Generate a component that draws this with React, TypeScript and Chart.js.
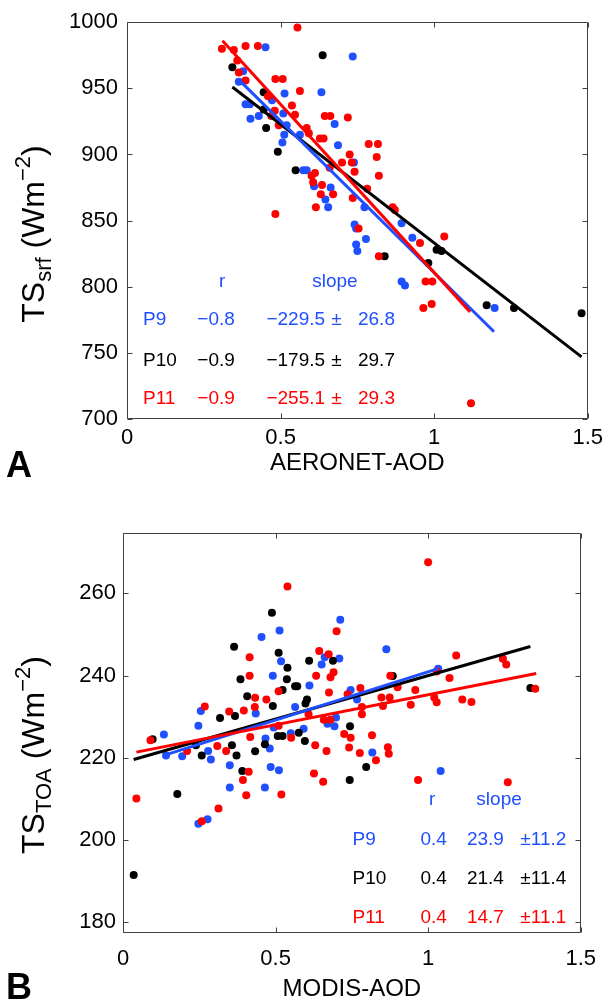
import React, { useEffect, useRef } from 'react';
import { Chart, registerables } from 'chart.js';

Chart.register(...registerables);

const FONT = "'Liberation Sans', Arial, Helvetica, sans-serif";
const BLUE = '#1f4fff';
const BLACK = '#000000';
const RED = '#ff0000';
const FRAME = '#404040';

// ---------------- Panel A : TS_srf vs AERONET-AOD ----------------
const A_X_TICKS = [0, 0.5, 1, 1.5];
const A_Y_TICKS = [700, 750, 800, 850, 900, 950, 1000];

const A_P9_X = [0.451, 0.735, 0.378, 0.364, 0.513, 0.633, 0.472, 0.386, 0.4, 0.429, 0.402, 0.509, 0.676, 0.52, 0.512, 0.563, 0.506, 0.687, 0.739, 0.574, 0.585, 0.609, 0.663, 0.646, 0.655, 0.773, 0.741, 0.746, 0.778, 0.746, 0.75, 0.894, 0.929, 0.894, 0.905, 1.197];
const A_P9_Y = [981, 974, 963, 955, 946, 947, 941, 938, 938, 929, 927, 931, 923, 922, 915, 915, 909, 907, 894, 888, 888, 876, 875, 866, 860, 860, 847, 844, 836, 832, 827, 848, 837, 804, 801, 784];

const A_P10_X = [0.637, 0.343, 0.445, 0.445, 0.453, 0.491, 0.549, 0.839, 0.981, 1.008, 1.024, 1.171, 1.26, 1.48];
const A_P10_Y = [975, 966, 947, 934, 920, 902, 888, 823, 818, 828, 827, 786, 784, 780];

const A_P11_X = [0.555, 0.309, 0.348, 0.386, 0.426, 0.359, 0.364, 0.386, 0.483, 0.507, 0.563, 0.459, 0.537, 0.481, 0.47, 0.547, 0.644, 0.662, 0.719, 0.494, 0.585, 0.592, 0.628, 0.64, 0.787, 0.817, 0.725, 0.813, 0.7, 0.732, 0.66, 0.741, 0.612, 0.82, 0.601, 0.606, 0.635, 0.782, 0.631, 0.671, 0.735, 0.615, 0.483, 0.865, 0.872, 0.754, 1.033, 0.954, 0.82, 0.972, 0.994, 0.992, 0.965, 1.12];
const A_P11_Y = [996, 980, 979, 982, 982, 971, 962, 956, 957, 957, 948, 944, 937, 933, 929, 930, 929, 929, 928, 922, 920, 916, 912, 912, 908, 908, 900, 898, 894, 894, 890, 887, 886, 884, 884, 879, 877, 874, 870, 870, 867, 860, 855, 860, 858, 844, 838, 833, 823, 804, 804, 787, 784, 712];

const A_FIT_P9_X = [0.362, 1.195];
const A_FIT_P9_Y = [957, 766];
const A_FIT_P10_X = [0.343, 1.48];
const A_FIT_P10_Y = [951, 747];
const A_FIT_P11_X = [0.311, 1.117];
const A_FIT_P11_Y = [986, 781];

const A_NAMES = ['P9', 'P10', 'P11'];
const A_R = ['\u22120.8', '\u22120.9', '\u22120.9'];
const A_SLOPE = ['\u2212229.5', '\u2212179.5', '\u2212255.1'];
const A_ERR = ['26.8', '29.7', '29.3'];

// ---------------- Panel B : TS_TOA vs MODIS-AOD ----------------
const B_X_TICKS = [0, 0.5, 1, 1.5];
const B_Y_TICKS = [180, 200, 220, 240, 260];

const B_P9_X = [0.712, 0.513, 0.454, 0.863, 0.518, 0.651, 0.661, 0.709, 0.491, 0.611, 0.746, 0.767, 1.033, 0.435, 0.564, 0.255, 0.247, 0.134, 0.698, 0.67, 0.693, 0.592, 0.494, 0.55, 0.467, 0.194, 0.141, 0.279, 0.288, 0.481, 0.35, 0.484, 0.511, 0.817, 0.35, 0.465, 0.247, 0.277, 1.041];
const B_P9_Y = [253.6, 251, 249.4, 246.4, 243.5, 242.7, 244.5, 244.2, 240, 237.6, 236.5, 234.2, 241.7, 230.8, 232.4, 231.4, 227.8, 225.7, 229.8, 228.3, 227.7, 227.1, 227.4, 226, 224.7, 220.4, 220.6, 221.7, 219.6, 222.3, 218.2, 217.8, 217, 221.3, 212.8, 212.8, 204, 205.1, 216.8];

const B_P10_X = [0.488, 0.364, 0.51, 0.61, 0.688, 0.539, 0.385, 0.537, 0.564, 0.571, 0.407, 0.523, 0.491, 0.603, 0.598, 0.318, 0.367, 0.884, 0.744, 0.507, 0.523, 0.576, 0.596, 0.097, 0.239, 0.357, 0.465, 0.258, 0.372, 0.433, 0.391, 0.797, 0.743, 0.178, 0.035, 1.335];
const B_P10_Y = [255.3, 247, 245.6, 243.6, 243.6, 241.9, 239.1, 239.1, 237.4, 237.4, 235, 236.5, 232.6, 234.2, 233.2, 229.7, 230.2, 239.9, 227.7, 225.3, 225.3, 226.1, 224.1, 224.5, 223.1, 223.1, 223.3, 220.6, 220.6, 221.6, 216.8, 217.8, 214.6, 211.2, 191.5, 237];

const B_P11_X = [0.539, 1.0, 0.7, 0.415, 0.643, 0.674, 1.092, 0.415, 0.633, 0.69, 0.68, 0.876, 1.028, 1.07, 0.51, 0.675, 0.778, 0.9, 0.958, 0.433, 0.432, 0.47, 0.736, 0.847, 0.874, 1.02, 1.028, 1.112, 0.852, 0.943, 0.783, 0.783, 0.268, 0.348, 0.396, 0.608, 0.658, 0.68, 0.51, 0.417, 0.551, 0.725, 0.746, 0.816, 0.09, 0.21, 0.309, 0.338, 0.63, 0.667, 0.741, 0.776, 0.868, 0.871, 0.829, 0.412, 0.393, 0.626, 0.656, 0.967, 0.404, 0.519, 0.044, 0.313, 0.258, 1.245, 1.256, 1.351, 1.142, 1.261];
const B_P11_Y = [261.7, 267.6, 250.8, 244.5, 246, 245.2, 244.9, 240, 240, 240.8, 239.6, 240, 241, 239.4, 236.2, 235.9, 237, 237.2, 236.5, 234.6, 232.4, 234.2, 235.5, 234.7, 234.7, 234.7, 233.5, 234.2, 232.6, 232.9, 232.4, 230.6, 232.5, 231.3, 231.5, 230.6, 229.3, 229.3, 227.8, 225.1, 224.9, 225.8, 224.9, 225.5, 224.3, 221.7, 222.9, 221.7, 223.1, 221.7, 222.5, 221.2, 222.6, 221, 219.4, 216.6, 214.6, 216.2, 214.2, 214.6, 210.9, 211.1, 210.1, 207.7, 204.6, 244.1, 242.7, 236.8, 233.6, 214.1];

const B_FIT_P9_X = [0.134, 1.033];
const B_FIT_P9_Y = [220.6, 241.7];
const B_FIT_P10_X = [0.035, 1.335];
const B_FIT_P10_Y = [219.6, 247.1];
const B_FIT_P11_X = [0.044, 1.354];
const B_FIT_P11_Y = [221.4, 240.5];

const B_NAMES = ['P9', 'P10', 'P11'];
const B_R = ['0.4', '0.4', '0.4'];
const B_SLOPE = ['23.9', '21.4', '14.7'];
const B_ERR = ['\u00b111.2', '\u00b111.4', '\u00b111.1'];

const SERIES_COLORS = [BLUE, BLACK, RED];

type Pt = { x: number; y: number };
const zip = (xs: number[], ys: number[]): Pt[] => xs.map((x, i) => ({ x, y: ys[i] }));

type Note = { text: string; x: number; y: number; color: string; align: CanvasTextAlign };
type Part = { text: string; size: number; dy: number };

interface PanelSpec {
  width: number;
  height: number;
  padding: { left: number; right: number; top: number; bottom: number };
  yAxisW: number;
  xAxisH: number;
  xMin: number; xMax: number; yMin: number; yMax: number;
  xTicks: number[]; yTicks: number[];
  xTitle: string;
  xTitlePad: number;
  xTickPad: number;
  yTickPad: number;
  series: { x: number[]; y: number[] }[];
  fits: { x: number[]; y: number[] }[];
  notes: Note[];
  yTitle: { cx: number; cy: number; parts: Part[] };
  letter: { text: string; x: number; y: number };
}

function makeNotes(
  names: string[], rs: string[], slopes: string[], errs: string[],
  header: { rx: number; sx: number; y: number },
  cols: { name: number; r: number; slope: number; pm: number | null; err: number },
  rowsY: number[]
): Note[] {
  const notes: Note[] = [];
  notes.push({ text: 'r', x: header.rx, y: header.y, color: BLUE, align: 'center' });
  notes.push({ text: 'slope', x: header.sx, y: header.y, color: BLUE, align: 'left' });
  names.forEach((nm, i) => {
    const c = SERIES_COLORS[i];
    const y = rowsY[i];
    notes.push({ text: nm, x: cols.name, y, color: c, align: 'left' });
    notes.push({ text: rs[i], x: cols.r, y, color: c, align: 'left' });
    notes.push({ text: slopes[i], x: cols.slope, y, color: c, align: 'left' });
    if (cols.pm !== null) notes.push({ text: '\u00b1', x: cols.pm, y, color: c, align: 'left' });
    notes.push({ text: errs[i], x: cols.err, y, color: c, align: 'left' });
  });
  return notes;
}

function drawYTitle(ctx: CanvasRenderingContext2D, cx: number, cy: number, parts: Part[]) {
  ctx.save();
  ctx.translate(cx, cy);
  ctx.rotate(-Math.PI / 2);
  const widths = parts.map((p) => {
    ctx.font = `${p.size}px ${FONT}`;
    return ctx.measureText(p.text).width;
  });
  const total = widths.reduce((a, b) => a + b, 0);
  let xx = -total / 2;
  ctx.fillStyle = '#000';
  ctx.textAlign = 'left';
  ctx.textBaseline = 'alphabetic';
  parts.forEach((p, i) => {
    ctx.font = `${p.size}px ${FONT}`;
    ctx.fillText(p.text, xx, p.dy);
    xx += widths[i];
  });
  ctx.restore();
}

function panelPlugin(spec: PanelSpec) {
  return {
    id: 'panelDecor',
    afterDraw(chart: any) {
      const { ctx, chartArea, scales } = chart;
      const xs = scales.x;
      const ys = scales.y;
      const L = Math.round(chartArea.left) + 0.5;
      const R = Math.round(chartArea.right) - 0.5;
      const T = Math.round(chartArea.top) + 0.5;
      const B = Math.round(chartArea.bottom) - 0.5;
      ctx.save();
      ctx.strokeStyle = FRAME;
      ctx.lineWidth = 1;
      ctx.beginPath();
      ctx.rect(L, T, R - L, B - T);
      ctx.stroke();
      const tl = 5;
      ctx.beginPath();
      spec.xTicks.forEach((v) => {
        const px = Math.round(xs.getPixelForValue(v)) + 0.5;
        ctx.moveTo(px, B); ctx.lineTo(px, B - tl);
        ctx.moveTo(px, T); ctx.lineTo(px, T + tl);
      });
      spec.yTicks.forEach((v) => {
        const py = Math.round(ys.getPixelForValue(v)) + 0.5;
        ctx.moveTo(L, py); ctx.lineTo(L + tl, py);
        ctx.moveTo(R, py); ctx.lineTo(R - tl, py);
      });
      ctx.stroke();

      ctx.font = `19px ${FONT}`;
      ctx.textBaseline = 'middle';
      spec.notes.forEach((n) => {
        ctx.fillStyle = n.color;
        ctx.textAlign = n.align;
        ctx.fillText(n.text, xs.getPixelForValue(n.x), ys.getPixelForValue(n.y));
      });

      drawYTitle(ctx, spec.yTitle.cx, spec.yTitle.cy, spec.yTitle.parts);

      ctx.font = `bold 36px ${FONT}`;
      ctx.fillStyle = '#000';
      ctx.textAlign = 'left';
      ctx.textBaseline = 'alphabetic';
      ctx.fillText(spec.letter.text, spec.letter.x, spec.letter.y);
      ctx.restore();
    },
  };
}

function buildConfig(spec: PanelSpec): any {
  const datasets: any[] = [];
  const fitOrder = [2, 0, 1];
  fitOrder.forEach((i) => {
    datasets.push({
      data: zip(spec.fits[i].x, spec.fits[i].y),
      showLine: true,
      borderColor: SERIES_COLORS[i],
      borderWidth: 3,
      pointRadius: 0,
      fill: false,
    });
  });
  const ptOrder = [2, 1, 0];
  ptOrder.forEach((i) => {
    datasets.push({
      data: zip(spec.series[i].x, spec.series[i].y),
      showLine: false,
      backgroundColor: SERIES_COLORS[i],
      borderWidth: 0,
      pointRadius: 4,
    });
  });
  const tickFont = { family: FONT, size: 22 };
  return {
    type: 'scatter',
    data: { datasets },
    options: {
      animation: false,
      responsive: false,
      maintainAspectRatio: false,
      events: [],
      layout: { padding: spec.padding },
      plugins: { legend: { display: false }, tooltip: { enabled: false } },
      scales: {
        x: {
          type: 'linear',
          min: spec.xMin,
          max: spec.xMax,
          afterBuildTicks: (s: any) => { s.ticks = spec.xTicks.map((v) => ({ value: v })); },
          afterFit: (s: any) => { s.height = spec.xAxisH; },
          grid: { display: false, drawTicks: false },
          border: { display: false },
          ticks: { font: tickFont, color: '#000', padding: spec.xTickPad, maxRotation: 0, autoSkip: false, callback: (v: any) => String(v) },
          title: { display: true, text: spec.xTitle, color: '#000', font: { family: FONT, size: 24 }, padding: { top: 0, bottom: spec.xTitlePad } },
        },
        y: {
          type: 'linear',
          min: spec.yMin,
          max: spec.yMax,
          afterBuildTicks: (s: any) => { s.ticks = spec.yTicks.map((v) => ({ value: v })); },
          afterFit: (s: any) => { s.width = spec.yAxisW; },
          grid: { display: false, drawTicks: false },
          border: { display: false },
          ticks: { font: tickFont, color: '#000', padding: spec.yTickPad, autoSkip: false, callback: (v: any) => String(v) },
        },
      },
    },
    plugins: [panelPlugin(spec)],
  };
}

const specA: PanelSpec = {
  width: 609,
  height: 500,
  padding: { left: 0, right: 18, top: 20, bottom: 0 },
  yAxisW: 127,
  xAxisH: 81,
  xMin: 0, xMax: 1.5, yMin: 700, yMax: 1000,
  xTicks: A_X_TICKS, yTicks: A_Y_TICKS,
  xTitle: 'AERONET-AOD',
  xTitlePad: 22,
  xTickPad: 6,
  yTickPad: 9,
  series: [{ x: A_P9_X, y: A_P9_Y }, { x: A_P10_X, y: A_P10_Y }, { x: A_P11_X, y: A_P11_Y }],
  fits: [{ x: A_FIT_P9_X, y: A_FIT_P9_Y }, { x: A_FIT_P10_X, y: A_FIT_P10_Y }, { x: A_FIT_P11_X, y: A_FIT_P11_Y }],
  notes: makeNotes(A_NAMES, A_R, A_SLOPE, A_ERR,
    { rx: 0.31, sx: 0.603, y: 804 },
    { name: 0.052, r: 0.229, slope: 0.454, pm: 0.665, err: 0.752 },
    [775, 744, 715]),
  yTitle: {
    cx: 44, cy: 234,
    parts: [
      { text: 'TS', size: 32, dy: 0 },
      { text: 'srf', size: 22, dy: 7 },
      { text: ' (Wm', size: 32, dy: 0 },
      { text: '\u22122', size: 22, dy: -14 },
      { text: ')', size: 32, dy: 0 },
    ],
  },
  letter: { text: 'A', x: 6, y: 477 },
};

const specB: PanelSpec = {
  width: 609,
  height: 504,
  padding: { left: 0, right: 14, top: 33, bottom: 0 },
  yAxisW: 123,
  xAxisH: 71,
  xMin: 0, xMax: 1.5, yMin: 177.4, yMax: 274.7,
  xTicks: B_X_TICKS, yTicks: B_Y_TICKS,
  xTitle: 'MODIS-AOD',
  xTitlePad: 0,
  xTickPad: 13,
  yTickPad: 7,
  series: [{ x: B_P9_X, y: B_P9_Y }, { x: B_P10_X, y: B_P10_Y }, { x: B_P11_X, y: B_P11_Y }],
  fits: [{ x: B_FIT_P9_X, y: B_FIT_P9_Y }, { x: B_FIT_P10_X, y: B_FIT_P10_Y }, { x: B_FIT_P11_X, y: B_FIT_P11_Y }],
  notes: makeNotes(B_NAMES, B_R, B_SLOPE, B_ERR,
    { rx: 1.013, sx: 1.158, y: 209.7 },
    { name: 0.752, r: 0.975, slope: 1.127, pm: null, err: 1.302 },
    [200, 190.5, 181]),
  yTitle: {
    cx: 44, cy: 255,
    parts: [
      { text: 'TS', size: 32, dy: 0 },
      { text: 'TOA', size: 22, dy: 7 },
      { text: ' (Wm', size: 32, dy: 0 },
      { text: '\u22122', size: 22, dy: -14 },
      { text: ')', size: 32, dy: 0 },
    ],
  },
  letter: { text: 'B', x: 6, y: 499 },
};

function Panel({ spec, top }: { spec: PanelSpec; top: number }) {
  const ref = useRef<HTMLCanvasElement | null>(null);
  useEffect(() => {
    if (!ref.current) return;
    const chart = new Chart(ref.current, buildConfig(spec));
    return () => chart.destroy();
  }, [spec]);
  return (
    <canvas
      ref={ref}
      width={spec.width}
      height={spec.height}
      style={{ position: 'absolute', left: 0, top, width: spec.width, height: spec.height, display: 'block' }}
    />
  );
}

export default function App() {
  return (
    <div style={{ position: 'absolute', left: 0, top: 0, width: 609, height: 1004, background: '#ffffff', overflow: 'hidden' }}>
      <Panel spec={specA} top={0} />
      <Panel spec={specB} top={500} />
    </div>
  );
}
